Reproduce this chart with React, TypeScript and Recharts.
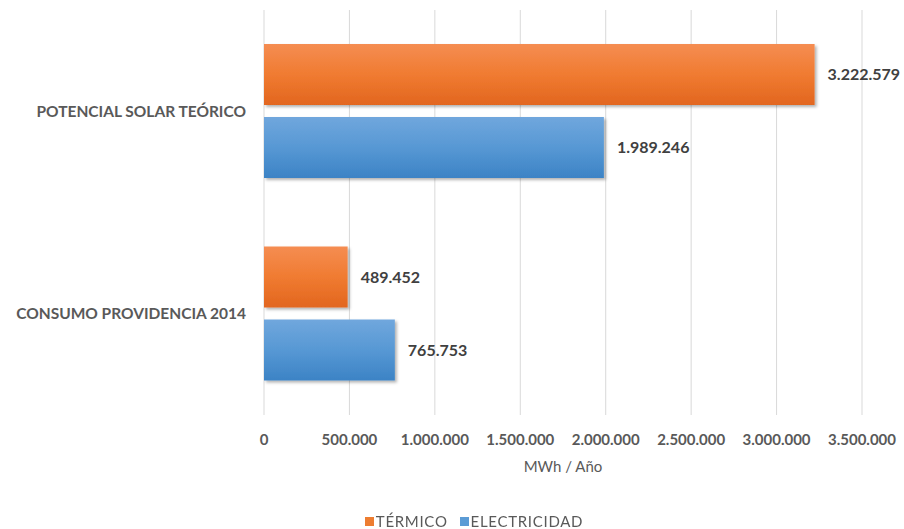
import React from "react";
import {
  BarChart,
  Bar,
  XAxis,
  YAxis,
  CartesianGrid,
  Legend,
  LabelList,
  Label,
} from "recharts";

const categories = ["POTENCIAL SOLAR TEÓRICO", "CONSUMO PROVIDENCIA 2014"];
const seriesNames = ["TÉRMICO", "ELECTRICIDAD"];
const termico = [3222579, 489452];
const electricidad = [1989246, 765753];
const xTicks = [0, 500000, 1000000, 1500000, 2000000, 2500000, 3000000, 3500000];

const data = categories.map((name, i) => ({
  name,
  termico: termico[i],
  electricidad: electricidad[i],
}));

const fmt = (v: number) =>
  String(Math.round(v)).replace(/\B(?=(\d{3})+(?!\d))/g, ".");

const FONT = "Lato, 'Open Sans', sans-serif";
const GRAY = "#595959";

const makeShape = (gradId: string) => (props: any) => {
  const { x, y, width, height } = props;
  if (!width || !height) return <g />;
  return (
    <rect
      x={x}
      y={y}
      width={width}
      height={height}
      fill={`url(#${gradId})`}
      filter="url(#barShadow)"
    />
  );
};

const LegendContent = (props: any) => {
  const items = [...(props.payload || [])].sort(
    (a: any, b: any) => seriesNames.indexOf(a.value) - seriesNames.indexOf(b.value)
  );
  return (
    <div
      style={{
        display: "flex",
        justifyContent: "center",
        alignItems: "center",
        height: 20,
        fontFamily: FONT,
        fontSize: 15,
        letterSpacing: 0.7,
        color: GRAY,
      }}
    >
      {items.map((it: any, i: number) => (
        <div
          key={i}
          style={{ display: "flex", alignItems: "center", marginLeft: i === 0 ? 0 : 12 }}
        >
          <span
            style={{ display: "inline-block", width: 9, height: 9, background: it.color, marginRight: 2 }}
          />
          <span>{it.value}</span>
        </div>
      ))}
    </div>
  );
};

export default function App() {
  return (
    <div
      style={{
        position: "fixed",
        left: 0,
        top: 0,
        width: 904,
        height: 529,
        background: "#fff",
        fontFamily: FONT,
      }}
    >
      <BarChart
        width={904}
        height={529}
        data={data}
        layout="vertical"
        margin={{ top: 10, right: 42, bottom: 24, left: 0 }}
        barSize={61}
        barGap={12}
      >
        <defs>
          <linearGradient id="gradOrange" x1="0" y1="0" x2="0" y2="1">
            <stop offset="0%" stopColor="#F58D52" />
            <stop offset="50%" stopColor="#F07B31" />
            <stop offset="100%" stopColor="#E2661F" />
          </linearGradient>
          <linearGradient id="gradBlue" x1="0" y1="0" x2="0" y2="1">
            <stop offset="0%" stopColor="#70A7DD" />
            <stop offset="50%" stopColor="#5798D4" />
            <stop offset="100%" stopColor="#3C83C5" />
          </linearGradient>
          <filter id="barShadow" x="-5%" y="-10%" width="115%" height="130%">
            <feDropShadow dx="2" dy="2" stdDeviation="1.5" floodColor="#000" floodOpacity="0.3" />
          </filter>
        </defs>
        <CartesianGrid horizontal={false} stroke="#D9D9D9" strokeWidth={1} />
        <XAxis
          type="number"
          domain={[0, 3500000]}
          ticks={xTicks}
          tickFormatter={fmt}
          axisLine={false}
          tickLine={false}
          tickMargin={13}
          height={70}
          interval={0}
          tick={{ fill: GRAY, fontSize: 15, fontWeight: 700, fontFamily: FONT }}
        >
          <Label
            value="MWh / Año"
            position="insideBottom"
            offset={13}
            style={{ fill: GRAY, fontSize: 15, fontFamily: FONT }}
          />
        </XAxis>
        <YAxis
          type="category"
          dataKey="name"
          width={264}
          axisLine={false}
          tickLine={false}
          tickMargin={12}
          tick={{ fill: GRAY, fontSize: 15.5, fontWeight: 700, fontFamily: FONT }}
        />
        <Legend
          verticalAlign="bottom"
          align="center"
          content={LegendContent}
          wrapperStyle={{ bottom: -2, left: 43 }}
        />
        <Bar
          dataKey="termico"
          name="TÉRMICO"
          fill="#ED7D31"
          isAnimationActive={false}
          shape={makeShape("gradOrange")}
        >
          <LabelList
            dataKey="termico"
            position="right"
            offset={13}
            formatter={(v: any) => fmt(Number(v))}
            style={{ fill: "#404040", fontSize: 16, fontWeight: 700, fontFamily: FONT }}
          />
        </Bar>
        <Bar
          dataKey="electricidad"
          name="ELECTRICIDAD"
          fill="#5B9BD5"
          isAnimationActive={false}
          shape={makeShape("gradBlue")}
        >
          <LabelList
            dataKey="electricidad"
            position="right"
            offset={13}
            formatter={(v: any) => fmt(Number(v))}
            style={{ fill: "#404040", fontSize: 16, fontWeight: 700, fontFamily: FONT }}
          />
        </Bar>
      </BarChart>
    </div>
  );
}
